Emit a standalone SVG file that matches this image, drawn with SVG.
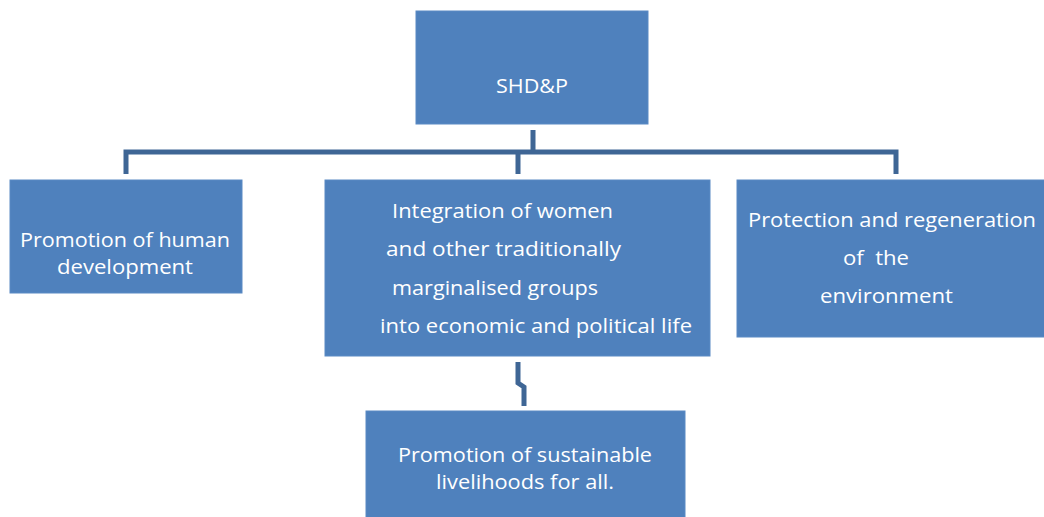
<svg xmlns="http://www.w3.org/2000/svg" width="1044" height="517" viewBox="0 0 1044 517">
<style>
.box{fill:#4F81BD;stroke:#5B8AC4;stroke-width:1}
.t{fill:#FFFFFF;font-family:"Open Sans","Liberation Sans",Arial,sans-serif;font-size:20px;white-space:pre}
.c{fill:none;stroke:#3F6695;stroke-width:5}
</style>
<rect width="1044" height="517" fill="#FFFFFF"/>
<g id="connectors">
<path class="c" d="M533 130 V152 M126 174 V152 H896 V174 M518 152 V174"/>
<path class="c" stroke-width="4" d="M518 362 V383 L524 387 V406"/>
</g>
<g id="n-shdp">
<rect class="box" x="416" y="11" width="232" height="113"/>
<text class="t" x="496" y="93" textLength="72" lengthAdjust="spacingAndGlyphs">SHD&amp;P</text>
</g>
<g id="n-human">
<rect class="box" x="10" y="180" width="232" height="113"/>
<text class="t" x="20" y="247" textLength="210" lengthAdjust="spacingAndGlyphs">Promotion of human</text>
<text class="t" x="57" y="274" textLength="136" lengthAdjust="spacingAndGlyphs">development</text>
</g>
<g id="n-women">
<rect class="box" x="325" y="180" width="385" height="176"/>
<text class="t" x="392" y="218" textLength="221" lengthAdjust="spacingAndGlyphs">Integration of women</text>
<text class="t" x="386" y="256" textLength="235" lengthAdjust="spacingAndGlyphs">and other traditionally</text>
<text class="t" x="392" y="295" textLength="206" lengthAdjust="spacingAndGlyphs">marginalised groups</text>
<text class="t" x="380" y="333" textLength="312" lengthAdjust="spacingAndGlyphs">into economic and political life</text>
</g>
<g id="n-env">
<rect class="box" x="737" y="180" width="310" height="157"/>
<text class="t" x="748" y="227" textLength="288" lengthAdjust="spacingAndGlyphs">Protection and regeneration</text>
<text class="t" x="843" y="265" textLength="66" lengthAdjust="spacingAndGlyphs" xml:space="preserve">of  the</text>
<text class="t" x="820" y="303" textLength="133" lengthAdjust="spacingAndGlyphs">environment</text>
</g>
<g id="n-livelihoods">
<rect class="box" x="366" y="411" width="319" height="110"/>
<text class="t" x="398" y="462" textLength="254" lengthAdjust="spacingAndGlyphs">Promotion of sustainable</text>
<text class="t" x="436" y="489" textLength="178" lengthAdjust="spacingAndGlyphs">livelihoods for all.</text>
</g>
</svg>
